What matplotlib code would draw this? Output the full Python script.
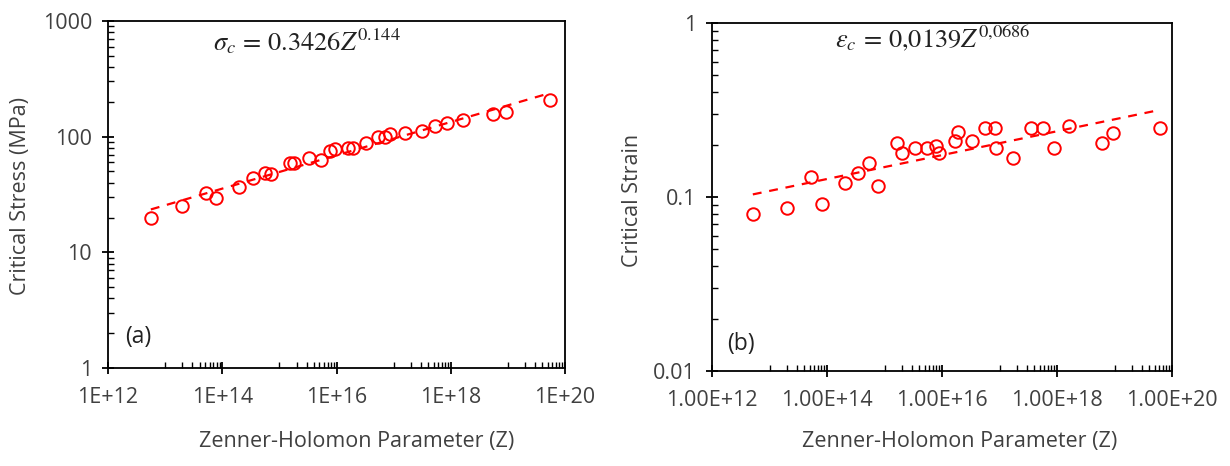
import numpy as np
import matplotlib
matplotlib.use('Agg')
import matplotlib.pyplot as plt
from matplotlib.ticker import FixedLocator, FixedFormatter, NullFormatter

plt.rcParams['font.family'] = ['Open Sans', 'DejaVu Sans']
plt.rcParams['mathtext.fontset'] = 'stix'

# (a) critical stress vs Z
z_a = [10**12.75, 10**13.29, 10**13.72, 10**13.89, 10**14.30, 10**14.53, 10**14.75,
       10**14.86, 10**15.19, 10**15.26, 10**15.51, 10**15.73, 10**15.88, 10**15.98,
       10**16.20, 10**16.29, 10**16.52, 10**16.73, 10**16.85, 10**16.93, 10**17.20,
       10**17.49, 10**17.73, 10**17.94, 10**18.22, 10**18.74, 10**18.97, 10**19.73]
stress = [19.7, 25.1, 32.7, 29.6, 36.9, 43.6, 48.2, 47.5, 59.4, 59.4, 64.9, 63.3,
          75.1, 77.6, 80.2, 79.2, 87.5, 98.6, 100, 105, 108, 113, 123, 132, 139,
          157, 164, 207]
fit_a = (0.3426, 0.144)

# (b) critical strain vs Z
z_b = [10**12.71, 10**13.31, 10**13.91, 10**13.72, 10**14.32, 10**14.54, 10**14.73,
       10**14.89, 10**15.21, 10**15.30, 10**15.53, 10**15.74, 10**15.90, 10**15.94,
       10**16.23, 10**16.27, 10**16.53, 10**16.75, 10**16.92, 10**16.94, 10**17.24,
       10**17.54, 10**17.75, 10**17.95, 10**18.21, 10**18.78, 10**18.97, 10**19.79]
strain = [0.0796, 0.0861, 0.0912, 0.130, 0.121, 0.137, 0.157, 0.116, 0.205, 0.180,
          0.192, 0.192, 0.196, 0.180, 0.210, 0.237, 0.210, 0.248, 0.248, 0.192,
          0.167, 0.248, 0.248, 0.192, 0.256, 0.204, 0.234, 0.248]
fit_b = (0.0139, 0.0686)

xticks = [1e12, 1e14, 1e16, 1e18, 1e20]
xminor = [k * 10.0**e for e in (13, 15, 17, 19) for k in range(1, 10)]

fig = plt.figure(figsize=(12.3, 4.66), dpi=100)
ax1 = fig.add_axes([108/1230, 1-368/466, (565-108)/1230, (368-21)/466])
ax2 = fig.add_axes([712/1230, 1-371/466, (1172-712)/1230, (371-23)/466])

lab_col = '#404040'


def style(ax, ylim, yticks, ylabels, xlabels):
    ax.set_xscale('log')
    ax.set_yscale('log')
    ax.set_xlim(1e12, 1e20)
    ax.set_ylim(*ylim)
    ax.xaxis.set_major_locator(FixedLocator(xticks))
    ax.xaxis.set_major_formatter(FixedFormatter(xlabels))
    ax.xaxis.set_minor_locator(FixedLocator(xminor))
    ax.xaxis.set_minor_formatter(NullFormatter())
    ax.yaxis.set_major_locator(FixedLocator(yticks))
    ax.yaxis.set_major_formatter(FixedFormatter(ylabels))
    ymin = [k * 10.0**e for e in range(int(np.log10(ylim[0])), int(np.log10(ylim[1])))
            for k in range(2, 10)]
    ax.yaxis.set_minor_locator(FixedLocator(ymin))
    ax.yaxis.set_minor_formatter(NullFormatter())
    ax.tick_params(which='major', direction='inout', length=9, width=1.3,
                   labelsize=15.5, labelcolor=lab_col)
    ax.tick_params(axis='x', which='major', pad=9)
    ax.tick_params(axis='y', which='major', pad=7)
    ax.tick_params(which='minor', direction='in', length=4, width=1)
    for s in ax.spines.values():
        s.set_linewidth(1.3)


def draw(ax, z, y, fit):
    zz = np.array([min(z), max(z)])
    ax.plot(zz, fit[0] * zz**fit[1], color='red', ls=(0, (4, 3.5)), lw=1.6)
    ax.plot(z, y, 'o', mfc='none', mec='red', ms=9, mew=1.4, ls='none')


draw(ax1, z_a, stress, fit_a)
style(ax1, (1, 1000), [1, 10, 100, 1000], ['1', '10', '100', '1000'],
      ['1E+12', '1E+14', '1E+16', '1E+18', '1E+20'])
draw(ax2, z_b, strain, fit_b)
style(ax2, (0.01, 1), [0.01, 0.1, 1], ['0.01', '0.1', '1'],
      ['1.00E+12', '1.00E+14', '1.00E+16', '1.00E+18', '1.00E+20'])

ax1.text(0.23, 0.916, r'$\sigma_c\,=\,0.3426Z^{0.144}$', transform=ax1.transAxes,
         ha='left', va='baseline', fontsize=19, color='#222222')
ax2.text(0.267, 0.931, r'$\varepsilon_c\,=\,0{,}0139Z^{0{,}0686}$', transform=ax2.transAxes,
         ha='left', va='baseline', fontsize=19, color='#222222')
ax1.text(0.037, 0.072, '(a)', transform=ax1.transAxes, va='baseline',
         fontsize=16.5, color='#222222')
ax2.text(0.033, 0.06, '(b)', transform=ax2.transAxes, va='baseline',
         fontsize=16.5, color='#222222')

fig.text(357/1230, 1-442/466, 'Zenner-Holomon Parameter (Z)', ha='center', va='center',
         fontsize=15.5, color=lab_col)
fig.text(960/1230, 1-442/466, 'Zenner-Holomon Parameter (Z)', ha='center', va='center',
         fontsize=15.5, color=lab_col)
fig.text(21/1230, 1-196/466, 'Critical Stress (MPa)', rotation=90, ha='center',
         va='center', fontsize=15.5, color=lab_col)
fig.text(633/1230, 1-200/466, 'Critical Strain', rotation=90, ha='center',
         va='center', fontsize=15.5, color=lab_col)

fig.savefig('out.png', dpi=100, facecolor='white')
